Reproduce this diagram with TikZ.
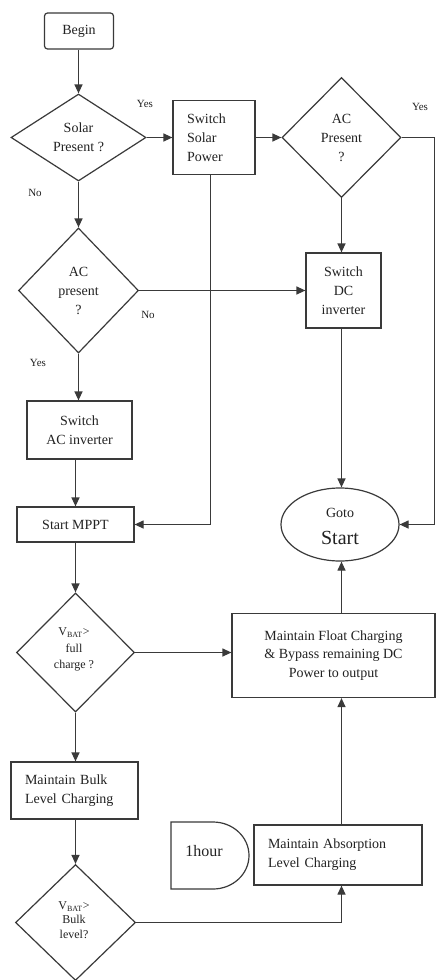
\documentclass[tikz,border=0pt]{standalone}
\usepackage{fontspec}
\setmainfont{Liberation Serif}
\usetikzlibrary{shapes.geometric,arrows.meta}
\definecolor{lc}{HTML}{3A3A3A}
\definecolor{tx}{HTML}{222222}
\begin{document}
\begin{tikzpicture}[x=1pt,y=-1pt,
  every node/.style={text=tx,font=\fontsize{14}{19}\selectfont},
  box/.style={draw=lc,line width=1.2pt,rectangle,inner sep=0pt,align=center},
  lbox/.style={box,align=left,inner xsep=14pt},
  dia/.style={draw=lc,line width=1.2pt,diamond,inner sep=0pt},
  wire/.style={draw=lc,line width=1.2pt},
  arr/.style={wire,-{Triangle[length=9pt,width=8pt]}},
  lab/.style={font=\fontsize{11}{13}\selectfont},
  small/.style={font=\fontsize{12}{16}\selectfont,align=center},
]
\fill[white] (0,0) rectangle (436,980);
\useasboundingbox (0,0) rectangle (436,980);

% nodes
\node[box,rounded corners=3pt,minimum width=69,minimum height=36] (begin) at (79,31) {Begin};
\node[dia,minimum width=135,minimum height=87] (solar) at (78.5,137.5) {};
\node[align=center] (solart) at (solar) {Solar\\Present ?};
\node[lbox,text width=54,minimum height=74] (sws) at (214,137.5) {Switch\\Solar\\Power};
\node[dia,minimum width=119,minimum height=120] (acp1) at (341.5,137.5) {};
\node[align=center] (acp1t) at (acp1) {AC\\Present\\?};
\node[dia,minimum width=120,minimum height=125] (acp2) at (78.5,290.5) {};
\node[align=center] (acp2t) at (acp2) {AC\\present\\?};
\node[box,minimum width=75,minimum height=75] (swdc) at (343.5,290.5) {Switch\\DC\\inverter};
\node[box,minimum width=105,minimum height=58] (swac) at (79.5,430) {Switch\\AC inverter};
\node[box,minimum width=117,minimum height=35] (mppt) at (75.5,524.5) {Start MPPT};
\node[draw=lc,line width=1.2pt,ellipse,inner sep=0pt,minimum width=118,minimum height=73] (goto) at (340,524.5) {};
\node (gotot) at (340,513) {Goto};
\node[font=\fontsize{20}{22}\selectfont] (startt) at (340,538) {Start};
\node[dia,minimum width=118,minimum height=119] (vfull) at (75.5,652.5) {};
\node[small,font=\fontsize{12}{16.5}\selectfont] (vfullt) at (74,649.5) {V\textsubscript{BAT}>\\full\\charge ?};
\node[box,minimum width=203,minimum height=84,font=\fontsize{14}{18.5}\selectfont] (float) at (333.5,655.5) {Maintain Float Charging\\\& Bypass remaining DC\\Power to output};
\node[lbox,text width=99,minimum height=57] (bulk) at (74.5,790.5) {Maintain Bulk\\Level Charging};
\node[dia,minimum width=120,minimum height=116] (vbulk) at (75.5,922.5) {};
\node[small,font=\fontsize{12}{14.5}\selectfont] (vbulkt) at (74,920) {V\textsubscript{BAT}>\\Bulk\\level?};
\node[lbox,text width=140,minimum height=60] (absorb) at (338,855) {Maintain Absorption\\Level Charging};
\draw[wire] (171,822) -- (213,822) .. controls (232.9,822) and (249,837) .. (249,855.5)
  .. controls (249,874) and (232.9,889) .. (213,889) -- (171,889) -- cycle;
\node[font=\fontsize{16}{18}\selectfont] (delayt) at (204,851) {1hour};

% labels
\node[lab] (y1) at (145,104) {Yes};
\node[lab] (y2) at (420,107) {Yes};
\node[lab] (n1) at (35,193) {No};
\node[lab] (n2) at (148,315) {No};
\node[lab] (y3) at (38,363) {Yes};

% helper columns
\coordinate (rt) at (434.5,0);
\coordinate (rc) at (341.5,0);
\coordinate (sc) at (210.5,0);

% connectors
\draw[arr] (solar.north |- begin.south) -- (solar.north);
\draw[arr] (solar.east) -- (sws.west);
\draw[arr] (sws.east) -- (acp1.west);
\draw[arr] (acp1.east) -- (acp1.east -| rt) |- (goto.east);
\draw[arr] (solar.south) -- (solar.south |- acp2.north);
\draw[arr] (acp2.east) -- (acp2.east -| swdc.west);
\draw[arr] (acp1.south) -- (acp1.south |- swdc.north);
\draw[arr] (rc |- swdc.south) -- (rc |- goto.north);
\draw[arr] (sc |- sws.south) -- (sc |- mppt.east) -- (mppt.east);
\draw[arr] (acp2.south) -- (acp2.south |- swac.north);
\draw[arr] (mppt.north |- swac.south) -- (mppt.north);
\draw[arr] (mppt.south) -- (vfull.north);
\draw[arr] (vfull.east) -- (vfull.east -| float.west);
\draw[arr] (rc |- float.north) -- (rc |- goto.south);
\draw[arr] (vfull.south) -- (vfull.south |- bulk.north);
\draw[arr] (vbulk.north |- bulk.south) -- (vbulk.north);
\draw[arr] (vbulk.east) -- (vbulk.east -| rc) -- (rc |- absorb.south);
\draw[arr] (rc |- absorb.north) -- (rc |- float.south);
\end{tikzpicture}
\end{document}
